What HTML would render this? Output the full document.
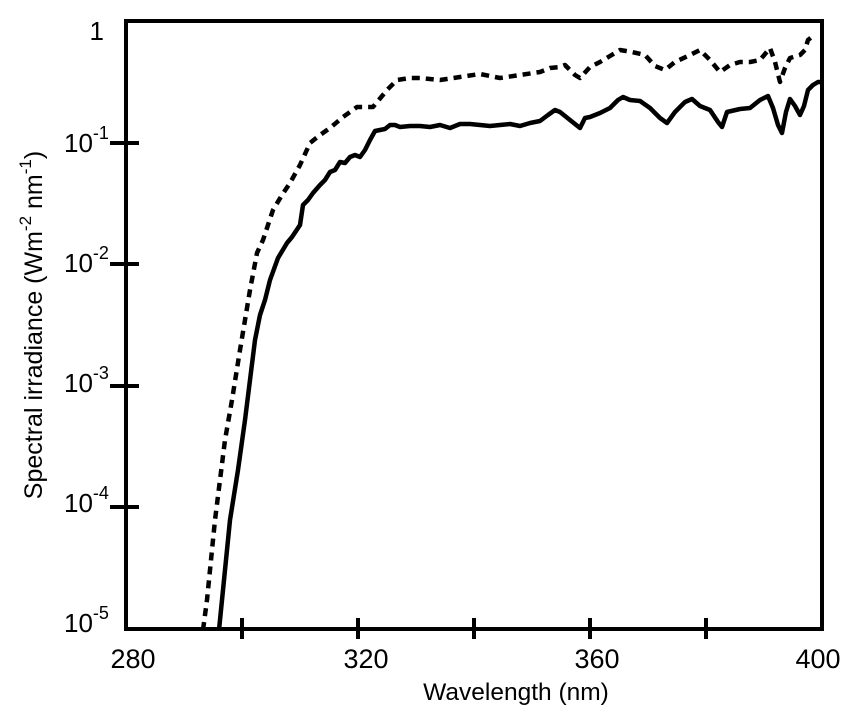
<!DOCTYPE html>
<html><head><style>body{margin:0;background:#fff}svg{display:block}</style></head><body>
<svg width="856" height="716" xmlns="http://www.w3.org/2000/svg" font-family="Liberation Sans, sans-serif">
<rect width="856" height="716" fill="#fff"/>
<g stroke="#000" stroke-width="4" fill="none">
<rect x="126" y="21" width="696" height="608"/>
<path d="M110 143H139M110 264H139M110 386H139M110 507H139M242 618V639M358 618V639M474 618V639M590 618V639M706 618V639"/>
</g>
<g stroke="#000" stroke-width="4.5" fill="none" stroke-linejoin="round">
<polyline points="219,630 222,600 230,520 238,470 245,420 250,380 255,340 260,315 265,300 270,280 278,258 287,243 292,237 300,225 303,205 308,200 313,193 320,185 325,180 330,172 335,170 340,162 345,163 350,157 355,155 360,157 365,150 370,140 375,131 380,130 385,129 390,125 395,125 400,127 410,126 420,126 430,127 440,125 450,128 460,124 470,124 480,125 490,126 500,125 510,124 520,126 530,123 540,121 548,115 555,110 560,112 570,120 580,128 585,118 590,117 600,113 610,108 618,100 623,97 630,100 640,101 650,108 660,118 667,123 675,112 685,102 692,99 700,106 710,110 718,122 722,127 727,112 740,109 750,108 760,100 768,96 773,108 778,125 782,133 786,112 790,99 795,106 800,115 804,106 808,90 813,85 818,82 822,82"/>
<polyline stroke-dasharray="8,6" points="203,630 207,600 210,570 215,520 220,480 225,440 232,400 240,350 245,320 250,290 257,253 263,240 273,210 282,195 290,183 300,165 310,143 320,135 330,128 343,117 357,107 373,107 387,90 397,80 410,78 420,78 440,80 460,77 480,74 500,78 520,75 540,72 550,68 560,67 565,65 575,75 580,78 590,67 600,62 610,56 620,50 632,52 645,55 655,66 665,70 675,62 690,55 700,50 710,60 720,72 730,65 740,62 750,62 760,60 770,48 775,62 780,82 785,68 790,58 800,55 805,50 808,40 813,36"/>
</g>
<g font-size="26" fill="#000">
<text x="104" y="40" text-anchor="end">1</text>
<text x="64" y="152">10<tspan font-size="18" dy="-13">-1</tspan></text>
<text x="64" y="272">10<tspan font-size="18" dy="-13">-2</tspan></text>
<text x="64" y="392">10<tspan font-size="18" dy="-13">-3</tspan></text>
<text x="64" y="512">10<tspan font-size="18" dy="-13">-4</tspan></text>
<text x="64" y="632">10<tspan font-size="18" dy="-13">-5</tspan></text>
<text x="133" y="668" text-anchor="middle" font-size="27">280</text>
<text x="366" y="668" text-anchor="middle" font-size="27">320</text>
<text x="597" y="668" text-anchor="middle" font-size="27">360</text>
<text x="818" y="668" text-anchor="middle" font-size="27">400</text>
<text x="516" y="700" text-anchor="middle" font-size="24.5">Wavelength (nm)</text>
<text transform="translate(42,325) rotate(-90)" text-anchor="middle" font-size="25">Spectral irradiance (Wm<tspan font-size="17" dy="-11">-2</tspan><tspan dy="11">  nm</tspan><tspan font-size="17" dy="-11">-1</tspan><tspan dy="11">)</tspan></text>
</g>
</svg>
</body></html>
